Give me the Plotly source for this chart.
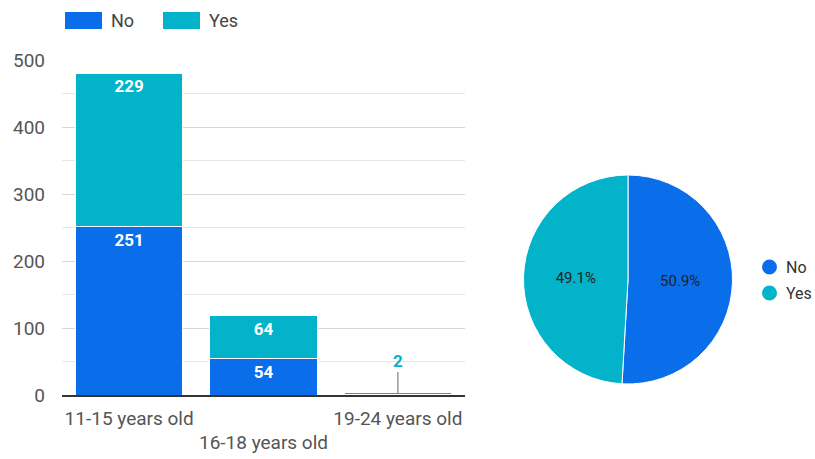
import plotly.graph_objects as go

# Survey responses by age group
age_groups = ["11-15 years old", "16-18 years old", "19-24 years old"]
series_names = ["No", "Yes"]
no_counts = [251, 54, 1]
yes_counts = [229, 64, 2]
y_ticks = [0, 100, 200, 300, 400, 500]

BLUE = "#0a6eea"
TEAL = "#02b3c9"
FONT = "Roboto, Arial, sans-serif"
W, H = 815, 459


def px(x):
    return x / W


def py(y):
    return 1 - y / H


fig = go.Figure()


# small segments get an external callout instead of an inside label
def inside_labels(vals):
    return [str(v) if v >= 20 else "" for v in vals]


for name, vals, color in [("No", no_counts, BLUE), ("Yes", yes_counts, TEAL)]:
    fig.add_trace(go.Bar(
        x=list(range(len(age_groups))), y=vals, name=name,
        marker=dict(color=color, line=dict(color="white", width=1)),
        text=inside_labels(vals), textposition="inside",
        insidetextanchor="end", textangle=0,
        textfont=dict(color="white", size=17, family=FONT, weight="bold"),
        showlegend=False, hoverinfo="y+name",
    ))

# callout for the tiny 19-24 column (top segment value)
for i, (n, y) in enumerate(zip(no_counts, yes_counts)):
    if n < 20 and y < 20:
        fig.add_annotation(
            x=i, y=n + y, xref="x", yref="y", text=str(y),
            showarrow=True, arrowhead=0, arrowwidth=1.5, arrowcolor="#999999",
            ax=0, ay=-21, yanchor="bottom", borderpad=0,
            font=dict(color=TEAL, size=17, family=FONT, weight="bold"),
        )

# Overall share pie
fig.add_trace(go.Pie(
    labels=series_names, values=[sum(no_counts), sum(yes_counts)],
    marker=dict(colors=[BLUE, TEAL], line=dict(color="white", width=1)),
    sort=False, direction="clockwise", rotation=0,
    texttemplate="%{percent:.1%}", textposition="inside",
    insidetextorientation="horizontal",
    textfont=dict(color="#222222", size=15, family=FONT),
    domain=dict(x=[px(523), px(733)], y=[py(384), py(175)]),
    showlegend=False, hoverinfo="label+value+percent",
))

shapes = []
annotations = list(fig.layout.annotations)
# top legend for the bars
for i, (name, color) in enumerate(zip(series_names, [BLUE, TEAL])):
    x0 = 65 + i * 98
    shapes.append(dict(type="rect", xref="paper", yref="paper",
                       x0=px(x0), x1=px(x0 + 37), y0=py(29), y1=py(12),
                       fillcolor=color, line=dict(width=0)))
    annotations.append(go.layout.Annotation(
        xref="paper", yref="paper", x=px(x0 + 44), y=py(20.5),
        text=name, showarrow=False, xanchor="left", yanchor="middle",
        font=dict(size=18, color="#444444", family=FONT)))
# side legend for the pie
for i, (name, color) in enumerate(zip(series_names, [BLUE, TEAL])):
    cy = 267 + i * 26
    shapes.append(dict(type="circle", xref="paper", yref="paper",
                       x0=px(762), x1=px(777), y0=py(cy + 7.5), y1=py(cy - 7.5),
                       fillcolor=color, line=dict(width=0)))
    annotations.append(go.layout.Annotation(
        xref="paper", yref="paper", x=px(784), y=py(cy),
        text=name, showarrow=False, xanchor="left", yanchor="middle",
        font=dict(size=16, color="#333333", family=FONT)))

fig.update_layout(
    width=W, height=H,
    margin=dict(l=0, r=0, t=0, b=0, autoexpand=False),
    paper_bgcolor="white", plot_bgcolor="white",
    barmode="stack", bargap=0.2,
    font=dict(family=FONT, color="#444444", size=20),
    shapes=shapes, annotations=annotations,
    xaxis=dict(
        domain=[px(62), px(465)], automargin=False,
        tickmode="array", tickvals=list(range(len(age_groups))),
        ticktext=[("<br>" + g if i % 2 else g) for i, g in enumerate(age_groups)],
        range=[-0.5, len(age_groups) - 0.5], tickangle=0,
        showgrid=False, showline=True, linecolor="#333333", linewidth=1.5,
        ticks="", ticklabelstandoff=5,
        tickfont=dict(size=19, color="#555555"),
        fixedrange=True,
    ),
    yaxis=dict(
        domain=[py(395), py(60)], automargin=False,
        range=[0, 500], tickvals=y_ticks,
        showgrid=True, gridcolor="#d9d9d9", gridwidth=1,
        minor=dict(dtick=50, showgrid=True, gridcolor="#e6e6e6"),
        zeroline=False, ticks="", ticklabelstandoff=16,
        tickfont=dict(size=19, color="#555555"),
        fixedrange=True,
    ),
)

fig.write_html("out.html")
